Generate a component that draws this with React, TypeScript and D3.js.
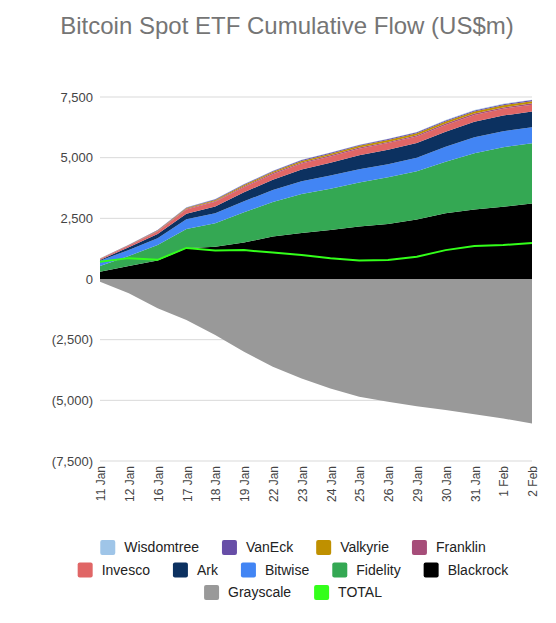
import * as d3 from "d3";
import { useEffect, useRef } from "react";

const dates = [
  "11 Jan", "12 Jan", "16 Jan", "17 Jan", "18 Jan", "19 Jan", "22 Jan", "23 Jan",
  "24 Jan", "25 Jan", "26 Jan", "29 Jan", "30 Jan", "31 Jan", "1 Feb", "2 Feb",
];

// cumulative flows per fund, US$m
const blackrock = [300, 540, 760, 1265, 1330, 1500, 1750, 1900, 2020, 2160, 2270, 2450, 2710, 2860, 2980, 3110];
const fidelity = [240, 410, 640, 795, 970, 1250, 1420, 1600, 1700, 1820, 1920, 1990, 2120, 2320, 2450, 2480];
const bitwise = [215, 250, 280, 400, 410, 450, 500, 530, 540, 540, 540, 560, 620, 660, 660, 665];
const ark = [30, 110, 175, 230, 280, 370, 420, 480, 530, 580, 600, 600, 620, 640, 645, 650];
const invesco = [40, 60, 100, 170, 190, 210, 230, 250, 260, 270, 270, 275, 280, 280, 280, 280];
const franklin = [10, 20, 25, 30, 35, 40, 45, 45, 50, 50, 50, 50, 55, 55, 55, 55];
const valkyrie = [5, 10, 20, 40, 45, 50, 55, 60, 65, 70, 75, 80, 85, 85, 90, 90];
const vaneck = [8, 12, 15, 20, 25, 30, 30, 35, 35, 35, 40, 40, 45, 45, 45, 45];
const wisdomtree = [2, 4, 6, 8, 10, 10, 10, 12, 12, 12, 12, 14, 14, 15, 15, 15];
const grayscale = [-110, -590, -1210, -1690, -2310, -3000, -3620, -4100, -4510, -4855, -5060, -5240, -5400, -5570, -5750, -5955];
const total = [715, 860, 790, 1280, 1170, 1190, 1090, 990, 860, 760, 780, 920, 1190, 1360, 1400, 1480];

const yTicks = [-7500, -5000, -2500, 0, 2500, 5000, 7500];

const seriesColors: Record<string, string> = {
  Wisdomtree: "#9fc5e8",
  VanEck: "#674ea7",
  Valkyrie: "#bf9000",
  Franklin: "#a64d79",
  Invesco: "#e06666",
  Ark: "#0c3160",
  Bitwise: "#4285f4",
  Fidelity: "#34a853",
  Blackrock: "#000000",
  Grayscale: "#999999",
  TOTAL: "#33ff1a",
};

const legendRows = [
  ["Wisdomtree", "VanEck", "Valkyrie", "Franklin"],
  ["Invesco", "Ark", "Bitwise", "Fidelity", "Blackrock"],
  ["Grayscale", "TOTAL"],
];

const width = 556;
const height = 623;
const plot = { left: 100, right: 532, top: 97, bottom: 461 };
const font = "'Liberation Sans', Arial, sans-serif";

export default function App() {
  const svgRef = useRef<SVGSVGElement>(null);

  useEffect(() => {
    if (!svgRef.current) return;
    const svg = d3.select(svgRef.current);
    svg.selectAll("*").remove();

    const rows = dates.map((d, i) => ({
      date: d,
      Blackrock: blackrock[i],
      Fidelity: fidelity[i],
      Bitwise: bitwise[i],
      Ark: ark[i],
      Invesco: invesco[i],
      Franklin: franklin[i],
      Valkyrie: valkyrie[i],
      VanEck: vaneck[i],
      Wisdomtree: wisdomtree[i],
      Grayscale: grayscale[i],
    }));

    const keys = ["Blackrock", "Fidelity", "Bitwise", "Ark", "Invesco", "Franklin", "Valkyrie", "VanEck", "Wisdomtree", "Grayscale"];

    const x = d3.scalePoint<string>().domain(dates).range([plot.left, plot.right]);
    const y = d3.scaleLinear().domain([-7500, 7500]).range([plot.bottom, plot.top]);

    // title
    svg.append("text")
      .attr("x", 287)
      .attr("y", 34)
      .attr("text-anchor", "middle")
      .attr("font-family", font)
      .attr("font-size", 24)
      .attr("fill", "#757575")
      .text("Bitcoin Spot ETF Cumulative Flow (US$m)");

    // gridlines + y labels
    const grid = svg.append("g");
    grid.selectAll("line")
      .data(yTicks)
      .join("line")
      .attr("x1", plot.left)
      .attr("x2", plot.right)
      .attr("y1", (d) => y(d))
      .attr("y2", (d) => y(d))
      .attr("stroke", "#d9d9d9")
      .attr("stroke-width", 1);

    const fmt = d3.format(",");
    grid.selectAll("text")
      .data(yTicks)
      .join("text")
      .attr("x", 93)
      .attr("y", (d) => y(d))
      .attr("dy", "0.35em")
      .attr("text-anchor", "end")
      .attr("font-family", font)
      .attr("font-size", 13)
      .attr("fill", "#444")
      .text((d) => (d < 0 ? `(${fmt(-d)})` : fmt(d)));

    // stacked areas, grayscale goes below zero
    const stacked = d3.stack<any>()
      .keys(keys)
      .offset(d3.stackOffsetDiverging)(rows);

    const area = d3.area<any>()
      .x((d) => x(d.data.date)!)
      .y0((d) => y(d[0]))
      .y1((d) => y(d[1]));

    svg.append("g")
      .selectAll("path")
      .data(stacked)
      .join("path")
      .attr("d", area)
      .attr("fill", (s) => seriesColors[s.key]);

    // total line
    const line = d3.line<number>()
      .x((_, i) => x(dates[i])!)
      .y((d) => y(d));

    svg.append("path")
      .datum(total)
      .attr("d", line)
      .attr("fill", "none")
      .attr("stroke", seriesColors.TOTAL)
      .attr("stroke-width", 2);

    // x labels
    svg.append("g")
      .selectAll("text")
      .data(dates)
      .join("text")
      .attr("transform", (d) => `translate(${x(d)! + 1}, 466) rotate(-90)`)
      .attr("dy", "0.35em")
      .attr("text-anchor", "end")
      .attr("font-family", font)
      .attr("font-size", 12)
      .attr("fill", "#444")
      .text((d) => d);

    // legend
    const legend = svg.append("g");
    const rowY = [547.5, 570, 592.5];
    legendRows.forEach((names, r) => {
      const g = legend.append("g");
      let cx = 0;
      names.forEach((name) => {
        g.append("rect")
          .attr("x", cx)
          .attr("y", rowY[r] - 7.5)
          .attr("width", 15)
          .attr("height", 15)
          .attr("rx", 2)
          .attr("fill", seriesColors[name]);
        const t = g.append("text")
          .attr("x", cx + 24)
          .attr("y", rowY[r])
          .attr("dy", "0.35em")
          .attr("font-family", font)
          .attr("font-size", 14)
          .attr("fill", "#222")
          .text(name);
        const w = (t.node() as SVGTextElement).getComputedTextLength();
        cx += 24 + w + 23;
      });
      const rowWidth = cx - 23;
      g.attr("transform", `translate(${293 - rowWidth / 2}, 0)`);
    });
  }, []);

  return (
    <div style={{ position: "absolute", left: 0, top: 0 }}>
      <svg ref={svgRef} width={width} height={height} style={{ display: "block", background: "#fff" }}></svg>
    </div>
  );
}
